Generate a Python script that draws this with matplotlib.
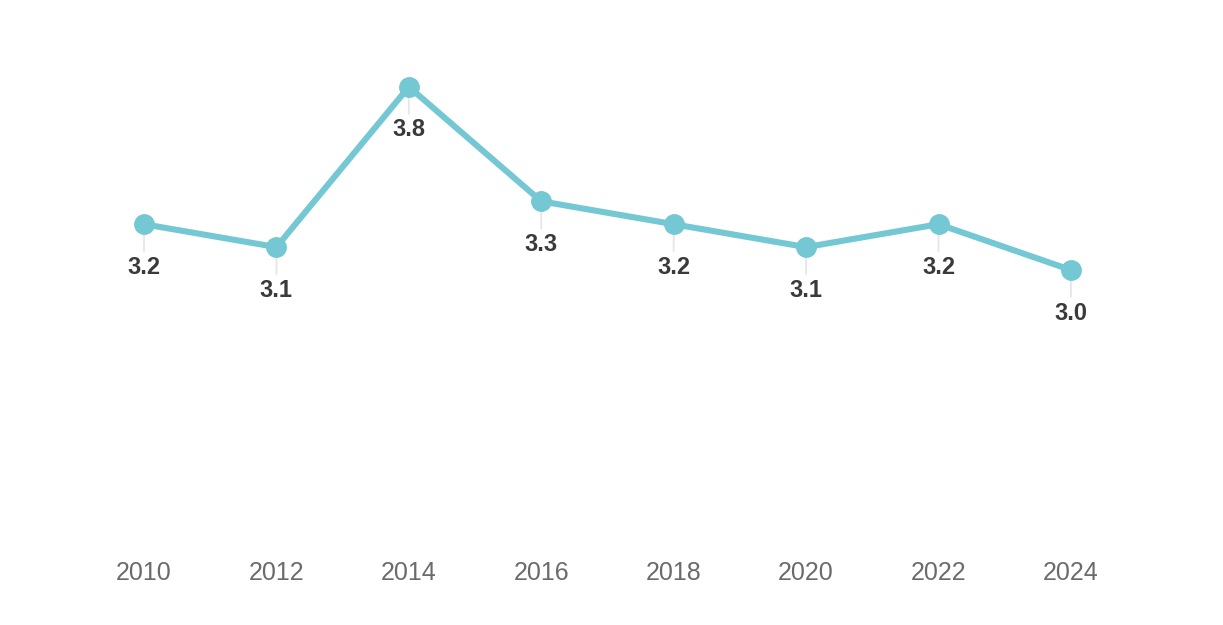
import matplotlib
matplotlib.use("Agg")
import matplotlib.pyplot as plt

years = [2010, 2012, 2014, 2016, 2018, 2020, 2022, 2024]
values = [3.2, 3.1, 3.8, 3.3, 3.2, 3.1, 3.2, 3.0]
tick_labels = [str(y) for y in years]

line_color = "#73c8d4"
plt.rcParams['font.family'] = ['Liberation Sans', 'DejaVu Sans']

fig = plt.figure(figsize=(12.23, 6.25), dpi=100)
ax = fig.add_axes([0, 0, 1, 1])
ax.set_xlim(2007.825, 2026.297)
ax.set_ylim(1.450, 4.179)
ax.axis('off')

# light grey drop lines below points
for x, v in zip(years, values):
    ax.annotate("", xy=(x, v), xycoords='data',
                xytext=(0, -27), textcoords='offset pixels',
                arrowprops=dict(arrowstyle='-', color='#e6e6e6', lw=1.3,
                                shrinkA=0, shrinkB=0), zorder=1)

ax.plot(years, values, color=line_color, lw=4.4, marker='o', ms=14,
        markerfacecolor=line_color, markeredgecolor=line_color,
        solid_capstyle='round', zorder=3)

for x, v in zip(years, values):
    ax.annotate(f"{v:.1f}", xy=(x, v), xytext=(0, -43), textcoords='offset pixels',
                ha='center', va='center', fontsize=17, fontweight='bold',
                color='#3a3a3a', zorder=4)

trans = ax.get_xaxis_transform()
for x, lab in zip(years, tick_labels):
    ax.text(x, 1 - 573 / 625, lab, transform=trans, ha='center', va='center',
            fontsize=18, color='#6b6b6b')

fig.savefig("out.png", dpi=100, facecolor='white')
